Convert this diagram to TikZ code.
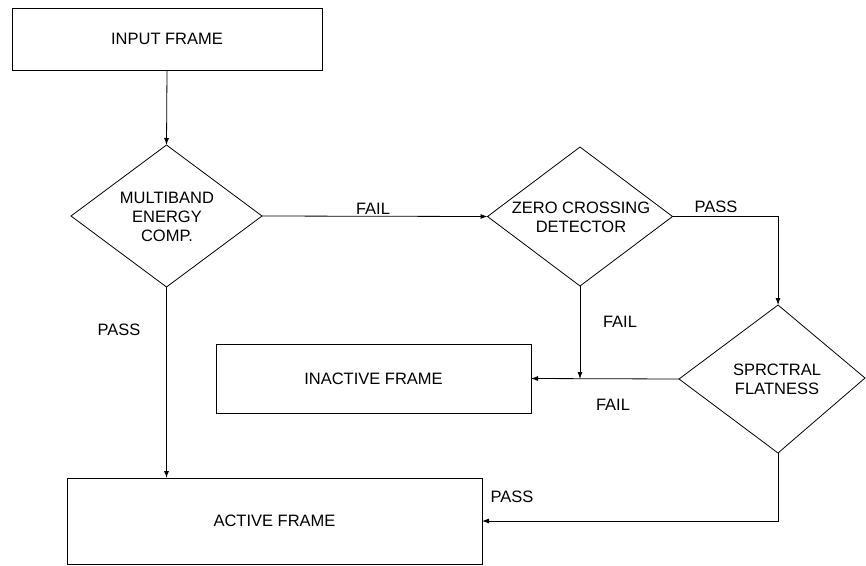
\documentclass[tikz,border=0pt]{standalone}
\usepackage{fontspec}
\setmainfont{Liberation Sans}
\usetikzlibrary{shapes.geometric,arrows.meta}
\begin{document}
\begin{tikzpicture}[x=1pt,y=-1pt,
  font=\fontsize{16.5}{19}\selectfont,
  line width=0.8pt,
  box/.style={draw, rectangle, inner sep=0pt, outer sep=0pt},
  decision/.style={draw, diamond, inner sep=0pt, outer sep=0pt},
  dtext/.style={align=center, inner sep=0pt},
  lbl/.style={inner sep=0pt, text height=12pt, text depth=0pt},
  flow/.style={-{Latex[length=7pt,width=5pt]}}]
\useasboundingbox (0,0) rectangle (866,565);

% process boxes
\node[box, minimum width=310pt, minimum height=62pt] (in) at (167,39) {INPUT FRAME};
\node[box, minimum width=315pt, minimum height=69pt] (inact) at (373.5,378.5) {INACTIVE FRAME};
\node[box, minimum width=415pt, minimum height=86pt] (act) at (274.5,521) {ACTIVE FRAME};

% decisions (outline and text kept apart so wide text can overhang the outline)
\node[decision, minimum width=191pt, minimum height=142pt] (d1) at (166.5,216) {};
\node[dtext] (d1t) at (167,217) {MULTIBAND\\ENERGY\\COMP.};
\node[decision, minimum width=185pt, minimum height=139pt] (d2) at (580,216.5) {};
\node[dtext] (d2t) at (581,217) {ZERO CROSSING\\DETECTOR};

% spectral flatness diamond (its right corner sits at the page edge)
\coordinate (d3t) at (778,305);
\coordinate (d3l) at (679,379);
\coordinate (d3b) at (778,453);
\coordinate (d3r) at (865,378);
\draw (d3t) -- (d3r) -- (d3b) -- (d3l) -- cycle;
\node[dtext] (d3) at (777,379) {SPRCTRAL\\FLATNESS};

% junction on the line into the inactive frame
\coordinate (j) at (580,379);

% connectors
\draw[flow] (in.south) -- (d1.north);
\draw[flow] (d1.east) -- (d2.west);
\draw[flow] (d2.east) -| (d3t);
\draw[flow] (d2.south) -- (j);
\draw[flow] (d3l) -- (inact.east);
\draw[flow] (d1.south) -- (d1.south |- act.north);
\draw[flow] (d3b) |- (act.east);

% branch labels
\node[lbl] (l1) at (373,208) {FAIL};
\node[lbl] (l2) at (716,206) {PASS};
\node[lbl] (l3) at (119,329) {PASS};
\node[lbl] (l4) at (620,321) {FAIL};
\node[lbl] (l5) at (613,404) {FAIL};
\node[lbl] (l6) at (512,496) {PASS};
\end{tikzpicture}
\end{document}
